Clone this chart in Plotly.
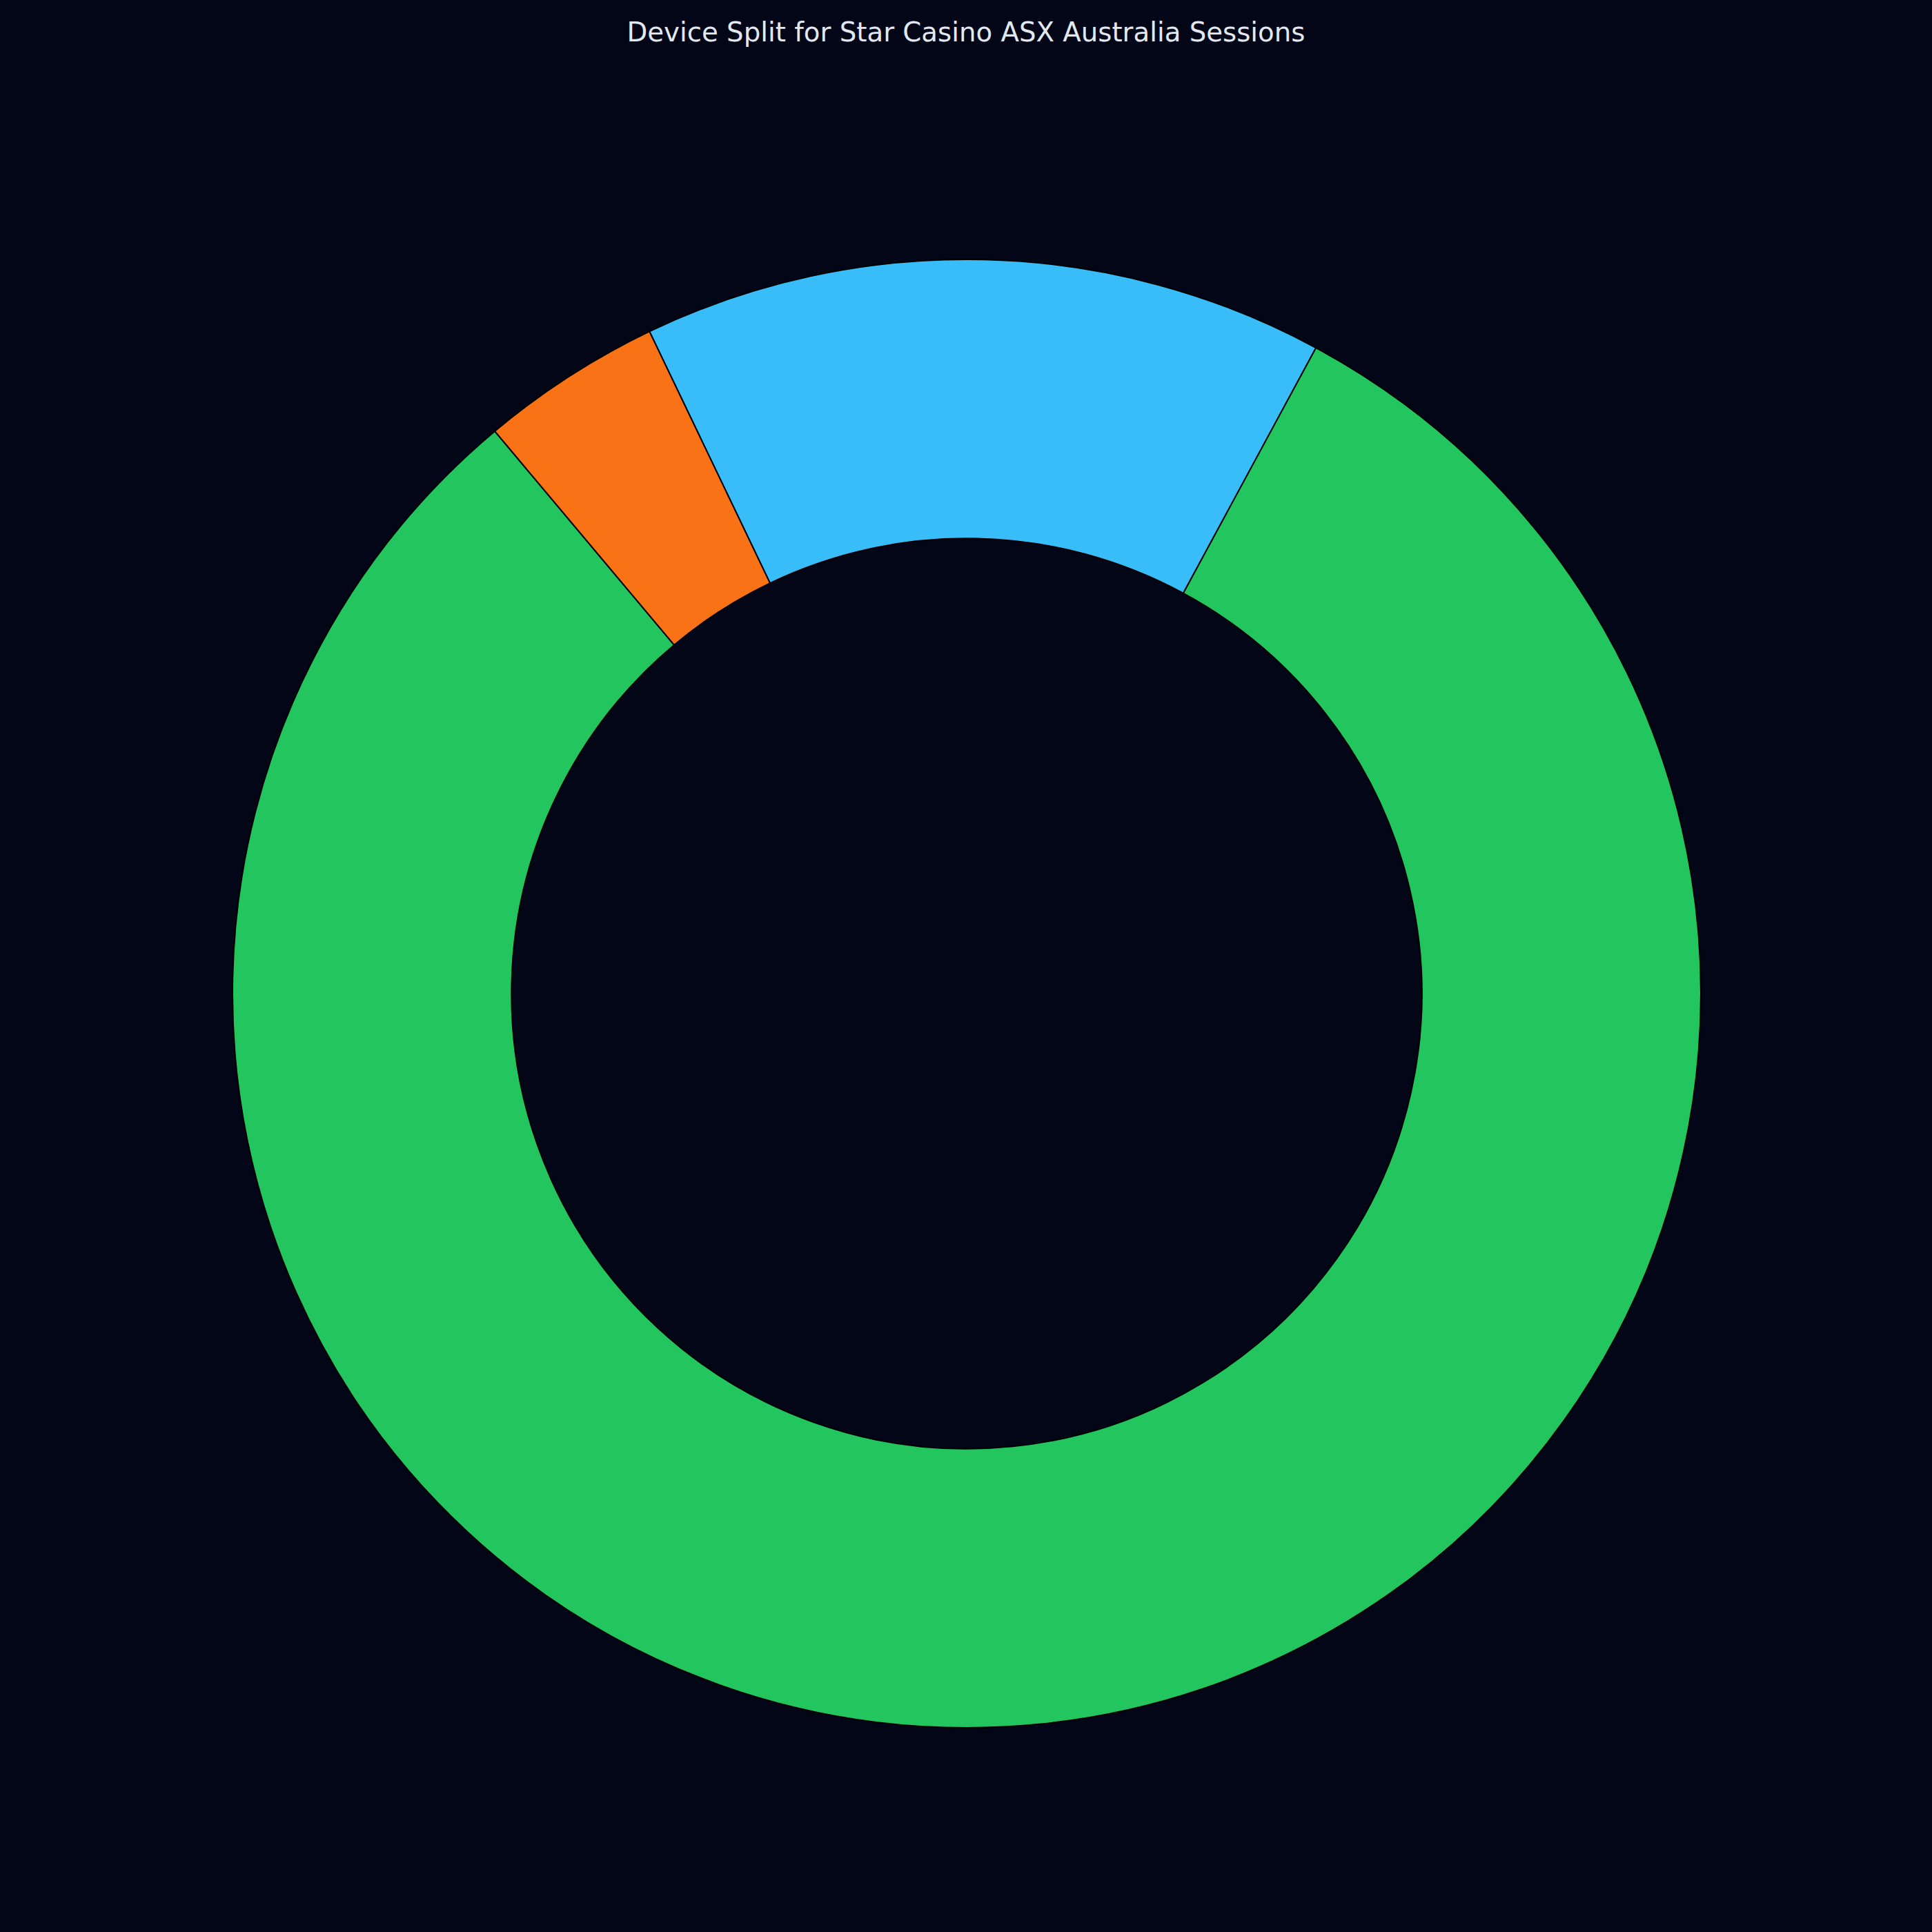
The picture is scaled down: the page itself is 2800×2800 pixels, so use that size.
import plotly.graph_objects as go

# Session share by device
devices = ["Mobile", "Desktop", "Tablet"]
shares = [81, 15, 4]
colors = ["#22c55e", "#38bdf8", "#f97316"]

fig = go.Figure(go.Pie(
    labels=devices,
    values=shares,
    hole=0.62,
    sort=False,
    direction="counterclockwise",
    rotation=28.4,  # first slice runs counterclockwise from here
    textinfo="none",
    marker=dict(colors=colors, line=dict(color="#000000", width=2)),
    showlegend=False,
))

fig.update_layout(
    width=2800,
    height=2800,
    paper_bgcolor="#020617",
    plot_bgcolor="#020617",
    margin=dict(l=337, r=335, t=376, b=296),
    title=dict(
        text="Device Split for Star Casino ASX Australia Sessions",
        x=0.5, xanchor="center",
        y=1 - 46 / 2800, yanchor="middle", yref="container",
        font=dict(family="DejaVu Sans", size=38.7, color="#e2e8f0"),
    ),
)

# drop the browser's default body margin so the figure sits flush
fig.write_html(
    "out.html",
    config={"displayModeBar": False},
    post_script="document.body.style.margin='0';document.body.style.background='#020617';",
)
